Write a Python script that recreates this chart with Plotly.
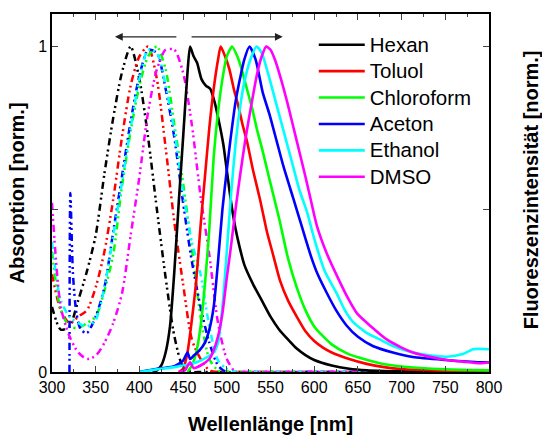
import plotly.graph_objects as go

# ---------------- data ----------------
solvents = ["Hexan", "Toluol", "Chloroform", "Aceton", "Ethanol", "DMSO"]
colors = ["#000000", "#FF0000", "#00FF00", "#0000FF", "#00FFFF", "#FF00FF"]

# absorption (dash-dot-dot), common grid
abs_wl = [300, 310, 320, 330, 340, 350, 360, 370, 380, 390, 400, 410, 420, 430,
          440, 450, 460, 470, 480, 490, 500, 510, 520, 600, 700, 800]
abs_hexan = [0.20, 0.13, 0.14, 0.22, 0.31, 0.42, 0.61, 0.78, 0.92, 1.00, 0.90, 0.72, 0.50, 0.29,
             0.11, 0.015, 0.0, 0.0, 0.0, 0.0, 0.0, 0.0, 0.0, 0.0, 0.0, 0.0]
abs_toluol = [0.30, 0.19, 0.15, 0.17, 0.19, 0.26, 0.37, 0.53, 0.72, 0.88, 0.97, 1.00, 0.90, 0.69,
              0.46, 0.27, 0.10, 0.04, 0.005, 0.0, 0.0, 0.0, 0.0, 0.0, 0.0, 0.0]
abs_chloroform = [0.37, 0.19, 0.14, 0.135, 0.15, 0.17, 0.25, 0.36, 0.57, 0.74, 0.88, 0.97, 1.00, 0.93,
                  0.76, 0.58, 0.38, 0.17, 0.04, 0.005, 0.0, 0.0, 0.0, 0.0, 0.0, 0.0]
abs_ethanol = [0.40, 0.22, 0.17, 0.15, 0.14, 0.16, 0.26, 0.42, 0.58, 0.75, 0.90, 0.99, 0.98, 0.88,
               0.74, 0.55, 0.40, 0.30, 0.14, 0.035, 0.01, 0.0, 0.0, 0.0, 0.0, 0.0]
abs_dmso = [0.52, 0.20, 0.11, 0.06, 0.04, 0.05, 0.09, 0.15, 0.24, 0.42, 0.60, 0.80, 0.93, 0.99,
            0.99, 0.92, 0.76, 0.54, 0.36, 0.15, 0.04, 0.0, 0.0, 0.0, 0.0, 0.0]
# aceton absorption (cut-off below ~320 nm)
abs_aceton_wl = [320, 321, 324, 328, 333, 340, 350, 360, 370, 380, 390, 400, 410, 420, 430,
                 440, 450, 460, 470, 480, 490, 500, 600, 700, 800]
abs_aceton = [0.0, 0.55, 0.30, 0.18, 0.13, 0.12, 0.17, 0.26, 0.43, 0.60, 0.77, 0.91, 0.99, 0.98, 0.87,
              0.72, 0.52, 0.34, 0.20, 0.09, 0.02, 0.0, 0.0, 0.0, 0.0]

# fluorescence (solid)
em_hexan_wl = [415, 420, 425, 430, 435, 440, 445, 450, 455, 458, 462, 466, 471, 476, 481, 486, 491,
               496, 500, 505, 510, 515, 520, 530, 540, 550, 560, 570, 580, 590, 600, 620, 640, 660,
               680, 700, 750, 800]
em_hexan = [0.0, 0.005, 0.02, 0.06, 0.14, 0.31, 0.52, 0.72, 0.92, 1.00, 0.97, 0.95, 0.90, 0.88, 0.87,
            0.83, 0.77, 0.70, 0.62, 0.52, 0.44, 0.38, 0.33, 0.27, 0.22, 0.17, 0.13, 0.10, 0.072,
            0.052, 0.037, 0.02, 0.01, 0.005, 0.003, 0.002, 0.0, 0.0]
em_toluol_wl = [445, 450, 455, 460, 465, 470, 475, 480, 485, 490, 493, 498, 503, 508, 513, 518, 523,
                530, 538, 546, 553, 561, 570, 580, 590, 600, 610, 620, 640, 660, 680, 700, 750, 800]
em_toluol = [0.0, 0.01, 0.06, 0.16, 0.28, 0.45, 0.60, 0.75, 0.87, 0.96, 1.00, 0.97, 0.93, 0.87, 0.82,
             0.76, 0.71, 0.62, 0.53, 0.43, 0.36, 0.28, 0.22, 0.17, 0.125, 0.095, 0.075, 0.06, 0.04,
             0.025, 0.015, 0.009, 0.004, 0.002]
em_chloroform_wl = [455, 460, 465, 470, 475, 480, 485, 490, 495, 500, 506, 512, 517, 523, 529, 535,
                    540, 549, 560, 570, 580, 590, 600, 610, 620, 637, 650, 675, 700, 750, 800]
em_chloroform = [0.0, 0.02, 0.06, 0.14, 0.27, 0.44, 0.66, 0.80, 0.90, 0.97, 1.00, 0.97, 0.93, 0.87,
                 0.81, 0.74, 0.69, 0.59, 0.47, 0.35, 0.26, 0.19, 0.14, 0.11, 0.085, 0.058, 0.045,
                 0.027, 0.017, 0.008, 0.005]
em_aceton_wl = [400, 410, 420, 430, 440, 445, 450, 455, 458, 462, 469, 475, 480, 485, 490, 495, 500,
                504, 510, 515, 520, 526, 533, 541, 549, 557, 565, 573, 581, 590, 597, 604, 614, 625,
                637, 650, 667, 690, 713, 750, 790, 800]
em_aceton = [0.0, 0.005, 0.01, 0.013, 0.018, 0.025, 0.035, 0.06, 0.04, 0.05, 0.067, 0.09, 0.13, 0.20,
             0.34, 0.50, 0.62, 0.71, 0.83, 0.90, 0.96, 1.00, 0.96, 0.86, 0.79, 0.71, 0.63, 0.56, 0.49,
             0.41, 0.35, 0.30, 0.245, 0.19, 0.143, 0.108, 0.08, 0.06, 0.046, 0.037, 0.03, 0.03]
em_ethanol_wl = [400, 420, 440, 460, 470, 480, 485, 490, 495, 500, 505, 510, 515, 520, 527, 534, 540,
                 548, 556, 565, 575, 583, 592, 600, 612, 626, 635, 644, 660, 675, 690, 713, 730, 752,
                 770, 782, 800]
em_ethanol = [0.0, 0.008, 0.015, 0.025, 0.035, 0.05, 0.06, 0.09, 0.20, 0.37, 0.55, 0.70, 0.81, 0.89,
              0.96, 1.00, 0.98, 0.91, 0.83, 0.74, 0.64, 0.56, 0.49, 0.41, 0.31, 0.24, 0.19, 0.155,
              0.12, 0.10, 0.08, 0.06, 0.052, 0.047, 0.055, 0.07, 0.07]
em_dmso_wl = [445, 452, 458, 462, 470, 480, 484, 490, 495, 500, 504, 510, 515, 521, 528, 535, 540,
              545, 550, 555, 562, 570, 580, 590, 596, 603, 615, 627, 638, 649, 665, 683, 700, 713,
              730, 752, 770, 790, 800]
em_dmso = [0.0, 0.005, 0.03, 0.012, 0.02, 0.04, 0.06, 0.11, 0.18, 0.29, 0.37, 0.50, 0.60, 0.71, 0.82,
           0.92, 0.97, 1.00, 0.99, 0.96, 0.90, 0.82, 0.71, 0.60, 0.53, 0.45, 0.36, 0.29, 0.23, 0.18,
           0.14, 0.10, 0.075, 0.06, 0.048, 0.037, 0.032, 0.027, 0.03]

x_ticks = [300, 350, 400, 450, 500, 550, 600, 650, 700, 750, 800]
y_ticks = [0, 0.5, 1]
y_ticktext = ["0", "", "1"]
# shift arrows (blue shift of absorption, red shift of emission)
arrow_y = 1.03
arrow_abs = (444, 372)
arrow_em = (458, 564)

# ---------------- figure ----------------
FONT = "Liberation Sans, Arial, sans-serif"
abs_x = [abs_wl, abs_wl, abs_wl, abs_aceton_wl, abs_wl, abs_wl]
abs_y = [abs_hexan, abs_toluol, abs_chloroform, abs_aceton, abs_ethanol, abs_dmso]
em_x = [em_hexan_wl, em_toluol_wl, em_chloroform_wl, em_aceton_wl, em_ethanol_wl, em_dmso_wl]
em_y = [em_hexan, em_toluol, em_chloroform, em_aceton, em_ethanol, em_dmso]

fig = go.Figure()
for name, c, xs, ys in zip(solvents, colors, abs_x, abs_y):
    fig.add_trace(go.Scatter(
        x=xs, y=ys, mode="lines", name=name + " Abs", showlegend=False,
        line=dict(color=c, width=2.5, dash="7px,4px,2px,3px,2px,4px",
                  shape="spline", smoothing=0.7)))
for name, c, xs, ys in zip(solvents, colors, em_x, em_y):
    fig.add_trace(go.Scatter(
        x=xs, y=ys, mode="lines",
        name="<span style='font-size:20.5px'>" + name + "</span>",
        line=dict(color=c, width=2.6, shape="spline", smoothing=0.6)))

for tail, head in (arrow_abs, arrow_em):
    fig.add_annotation(x=head, y=arrow_y, ax=tail, ay=arrow_y, xref="x", yref="y",
                       axref="x", ayref="y", text="", showarrow=True,
                       arrowhead=2, arrowsize=1.2, arrowwidth=1.3, arrowcolor="#222222")

# right axis title (fluorescence)
fig.add_annotation(text="Fluoreszenzintensität [norm.]", xref="paper", yref="paper",
                   x=1.096, y=0.51, xanchor="center", yanchor="middle", textangle=-90,
                   showarrow=False, font=dict(size=20, weight="bold", family=FONT))

fig.update_layout(
    width=542, height=435,
    margin=dict(l=52, r=53, t=14, b=63, autoexpand=False),
    paper_bgcolor="white", plot_bgcolor="white",
    font=dict(family=FONT, color="black"),
    showlegend=True,
    legend=dict(x=0.599, y=0.965, xanchor="left", yanchor="top",
                font=dict(size=18, family=FONT), bgcolor="rgba(0,0,0,0)",
                itemwidth=46, tracegroupgap=0),
    xaxis=dict(range=[300, 800], tickvals=x_ticks, ticks="inside", ticklen=6,
               tickwidth=1.3, showline=True, linewidth=1.5, linecolor="black",
               mirror="allticks", showgrid=False, zeroline=False, automargin=False,
               tickfont=dict(size=16),
               minor=dict(dtick=25, tick0=300, ticks="inside", ticklen=3, tickwidth=1),
               title=dict(text="Wellenlänge [nm]", font=dict(size=20, weight="bold"),
                          standoff=24)),
    yaxis=dict(range=[0, 1.1], tickvals=y_ticks, ticktext=y_ticktext, ticks="inside",
               ticklen=6, tickwidth=1.3, showline=True, linewidth=1.5, linecolor="black",
               mirror="ticks", showgrid=False, zeroline=False, automargin=False,
               tickfont=dict(size=16),
               title=dict(text="Absorption [norm.]", font=dict(size=20, weight="bold"),
                          standoff=8)),
)

fig.write_html("out.html")
